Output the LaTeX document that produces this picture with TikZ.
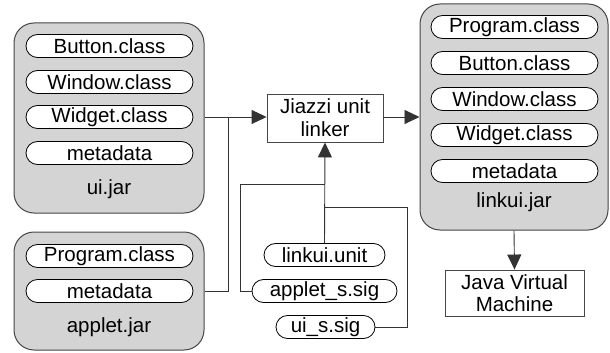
\documentclass[tikz,border=0pt]{standalone}
\usepackage{fontspec}
\setmainfont{Liberation Sans}
\usetikzlibrary{arrows.meta,positioning}
\definecolor{jargray}{RGB}{212,212,212}
\definecolor{edgegray}{RGB}{70,70,70}
\begin{document}
\begin{tikzpicture}[x=1pt,y=-1pt,
  every node/.style={font=\fontsize{20.5}{23}\selectfont},
  jar/.style={draw=edgegray,line width=1pt,fill=jargray,rounded corners=20pt,minimum width=190pt,inner sep=0pt},
  pill/.style={draw=black,line width=0.8pt,fill=white,rounded corners=11.5pt,minimum width=167pt,minimum height=23pt,inner sep=0pt},
  boxnode/.style={draw=edgegray,line width=0.9pt,fill=white,align=center,inner sep=0pt},
  conn/.style={draw=black!80,line width=0.9pt},
  arr/.style={conn,-{Triangle[length=15pt,width=14pt]}},
  lbl/.style={inner sep=0pt}
]
\useasboundingbox (0,0) rectangle (610,353);
% ui.jar
\node[jar,minimum height=190pt] (ui) at (109,118) {};
\node[pill] (uib) at (109.5,46) {Button.class};
\node[pill] (uiw) at (109.5,82) {Window.class};
\node[pill] (uig) at (109.5,117) {Widget.class};
\node[pill] (uim) at (109.5,153) {metadata};
\node[lbl] (uil) at (109,189) {ui.jar};
% applet.jar
\node[jar,minimum height=118pt] (ap) at (109,291) {};
\node[pill] (app) at (109.5,256) {Program.class};
\node[pill] (apm) at (109.5,291) {metadata};
\node[lbl] (apl) at (109,327) {applet.jar};
% linker
\node[boxnode,minimum width=116pt,minimum height=48pt] (jl) at (325,118) {Jiazzi unit\\linker};
% linkui.jar
\node[jar,minimum height=226pt,minimum width=188pt] (lk) at (514,117) {};
\node[pill] (lkp) at (514.5,27) {Program.class};
\node[pill] (lkb) at (514.5,63) {Button.class};
\node[pill] (lkw) at (514.5,99) {Window.class};
\node[pill] (lkg) at (514.5,135) {Widget.class};
\node[pill] (lkm) at (514.5,171) {metadata};
\node[lbl] (lkl) at (514,202) {linkui.jar};
% JVM
\node[boxnode,minimum width=139pt,minimum height=46pt,font=\fontsize{20.5}{21.5}\selectfont] (jvm) at (514.5,293) {Java Virtual\\Machine};
% signature pills
\node[pill,minimum width=121pt] (lu) at (324.5,255) {linkui.unit};
\node[pill,minimum width=145pt] (as) at (324.5,291) {applet\_s.sig};
\node[pill,minimum width=99pt] (us) at (325.5,327) {ui\_s.sig};
% connectors
\coordinate (j1) at (228,117);
\coordinate (a1) at (228,291);
\coordinate (b1) at (240,291);
\coordinate (b2) at (240,184);
\coordinate (b3) at (325,184);
\coordinate (c1) at (407,327);
\coordinate (c2) at (407,207);
\coordinate (c3) at (325,207);
\draw[arr] (ui.east |- uig) -- (jl.west |- uig);
\draw[conn] (ap.east |- apm) -- (a1) -- (j1);
\draw[arr] (jl.east |- uig) -- (lk.west |- uig);
\draw[arr] (lk.south) -- (jvm.north);
\draw[arr] (lu.north) -- (jl.south);
\draw[conn] (as.west) -- (b1) -- (b2) -- (b3);
\draw[conn] (us.east) -- (c1) -- (c2) -- (c3);
\end{tikzpicture}
\end{document}
